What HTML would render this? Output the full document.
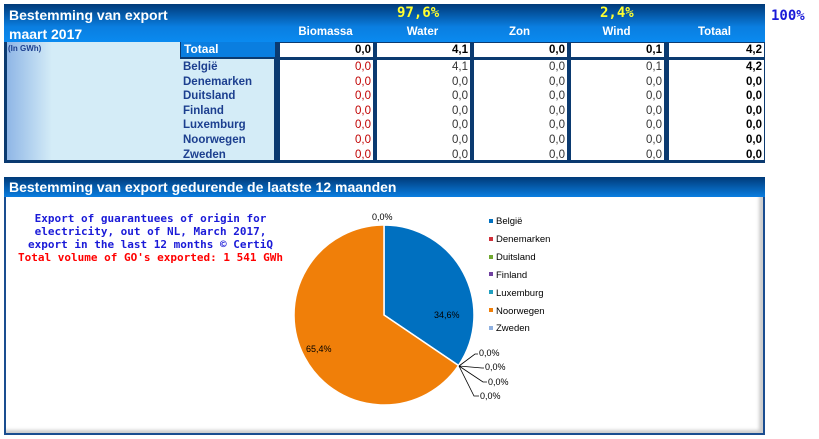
<!DOCTYPE html>
<html><head><meta charset="utf-8"><style>
body{margin:0;width:819px;height:439px;background:#fff;position:relative;overflow:hidden;font-family:"Liberation Sans",Arial,sans-serif}
.a{position:absolute}
.hdr{left:4px;top:4px;width:761px;height:38px;background:linear-gradient(#003a78,#0a7ee0 60%,#0a8af0)}
.t{color:#fff;font-weight:bold;font-size:14px}
.ch{color:#fff;font-weight:bold;font-size:11.5px;text-align:center;width:97px;top:26px}
.body{left:4px;top:42px;width:761px;height:121px;background:#0b3a70}
.lab{left:7px;top:42px;width:173px;height:118px;background:linear-gradient(90deg,#8fb6e6,#d4ecf7 45px,#d4ecf7)}
.cty{left:180px;top:59px;width:94px;height:101px;background:#d4ecf7}
.cell{background:#fff;font-size:11.5px;text-align:right;box-sizing:border-box;padding-right:2px;line-height:15px}
.n{color:#1c3f8f;font-weight:bold;font-size:11.5px;line-height:14.6px}
.yel{color:#ffff30;font-family:"DejaVu Sans Mono",monospace;font-size:14px;font-weight:bold;top:5px}
</style></head><body>
<div class="a hdr"></div>
<div class="a t" style="left:9px;top:7px">Bestemming van export</div>
<div class="a t" style="left:9px;top:26px">maart 2017</div>
<div class="a yel" style="left:397px">97,6%</div>
<div class="a yel" style="left:600px">2,4%</div>
<div class="a" style="left:771px;top:8px;color:#1a1ad8;font-weight:bold;font-family:'DejaVu Sans Mono',monospace;font-size:14px">100%</div>
<div class="a ch" style="left:277px">Biomassa</div>
<div class="a ch" style="left:374px">Water</div>
<div class="a ch" style="left:471px">Zon</div>
<div class="a ch" style="left:568px">Wind</div>
<div class="a ch" style="left:666px">Totaal</div>
<div class="a body"></div>
<div class="a lab"></div>
<div class="a" style="left:8px;top:44px;font-size:8px;font-weight:bold;color:#1c3f8f">(In GWh)</div>
<div class="a" style="left:181px;top:42px;width:94px;height:15px;background:#0a7ee0;color:#fff;font-weight:bold;font-size:12px;line-height:15px;padding-left:3px;box-sizing:border-box">Totaal</div>
<div class="a cty"></div>
<div class="a" style="left:183px;top:60px">
<div class="n">België</div><div class="n">Denemarken</div><div class="n">Duitsland</div><div class="n">Finland</div><div class="n">Luxemburg</div><div class="n">Noorwegen</div><div class="n">Zweden</div></div>
<div id="cells"></div>
<div class="a" style="left:4px;top:177px;width:761px;height:20px;background:linear-gradient(#003a78,#0a7ee0);color:#fff;font-weight:bold;font-size:14px;line-height:20px;padding-left:5px;box-sizing:border-box">Bestemming van export gedurende de laatste 12 maanden</div>
<div class="a" style="left:4px;top:197px;width:761px;height:238px;background:#fff;border:2px solid #1a4d90;border-top:none;box-sizing:border-box;box-shadow:inset -4px -3px 3px #ccc"></div>
<div class="a" style="left:8px;top:212px;width:285px;text-align:center;font-family:'DejaVu Sans Mono',monospace;font-weight:bold;font-size:11px;line-height:13px;color:#1a1ad8">Export of guarantuees of origin for<br>electricity, out of NL, March 2017,<br>export in the last 12 months © CertiQ<br><span style="color:#f00">Total volume of GO's exported: 1 541 GWh</span></div>
<svg class="a" style="left:0;top:0" width="819" height="439" font-family="Liberation Sans,Arial,sans-serif" font-size="9">
<path d="M384 315 L384 225 A90 90 0 0 1 458.5 365.5 Z" fill="#0070c0" stroke="#fff" stroke-width="1.5"/>
<path d="M384 315 L458.5 365.5 A90 90 0 1 1 384 225 Z" fill="#f07f09" stroke="#fff" stroke-width="1.5"/>
<text x="372" y="220">0,0%</text>
<text x="434" y="318">34,6%</text>
<text x="306" y="352">65,4%</text>
<g stroke="#000" fill="none" stroke-width="0.8">
<path d="M459 366 L475 354 L478 354"/><path d="M459 366 L482 368 L484 368"/><path d="M459 366 L483 382 L487 382"/><path d="M459 366 L474 396 L479 396"/></g>
<text x="479" y="356">0,0%</text><text x="485" y="370">0,0%</text><text x="488" y="385">0,0%</text><text x="480" y="399">0,0%</text>
<g font-size="9.5">
<rect x="489" y="219" width="4" height="4" fill="#0070c0"/><text x="496" y="224">België</text>
<rect x="489" y="237" width="4" height="4" fill="#d0303a"/><text x="496" y="242">Denemarken</text>
<rect x="489" y="255" width="4" height="4" fill="#70a830"/><text x="496" y="260">Duitsland</text>
<rect x="489" y="272" width="4" height="4" fill="#7040a0"/><text x="496" y="278">Finland</text>
<rect x="489" y="290" width="4" height="4" fill="#20a0c0"/><text x="496" y="296">Luxemburg</text>
<rect x="489" y="308" width="4" height="4" fill="#f07f09"/><text x="496" y="314">Noorwegen</text>
<rect x="489" y="326" width="4" height="4" fill="#8fb0e0"/><text x="496" y="331">Zweden</text>
</g></svg>
<script>
var cols=[[280,93],[377,93],[474,93],[571,93],[669,95]];
var tot=["0,0","4,1","0,0","0,1","4,2"];
var rows=[["0,0","4,1","0,0","0,1","4,2"]];
for(var i=0;i<6;i++)rows.push(["0,0","0,0","0,0","0,0","0,0"]);
var h="";
cols.forEach(function(c,j){
h+='<div class="a cell" style="left:'+c[0]+'px;top:43px;width:'+c[1]+'px;height:14px;font-weight:bold">'+tot[j]+'</div>';
var s="";rows.forEach(function(r){s+='<div style="'+(j==4?'font-weight:bold':(j==0?'color:#c00000':'color:#333'))+'">'+r[j]+'</div>';});
h+='<div class="a cell" style="left:'+c[0]+'px;top:60px;width:'+c[1]+'px;height:100px;line-height:14.6px">'+s+'</div>';
});
document.getElementById("cells").innerHTML=h;
</script>
</body></html>
